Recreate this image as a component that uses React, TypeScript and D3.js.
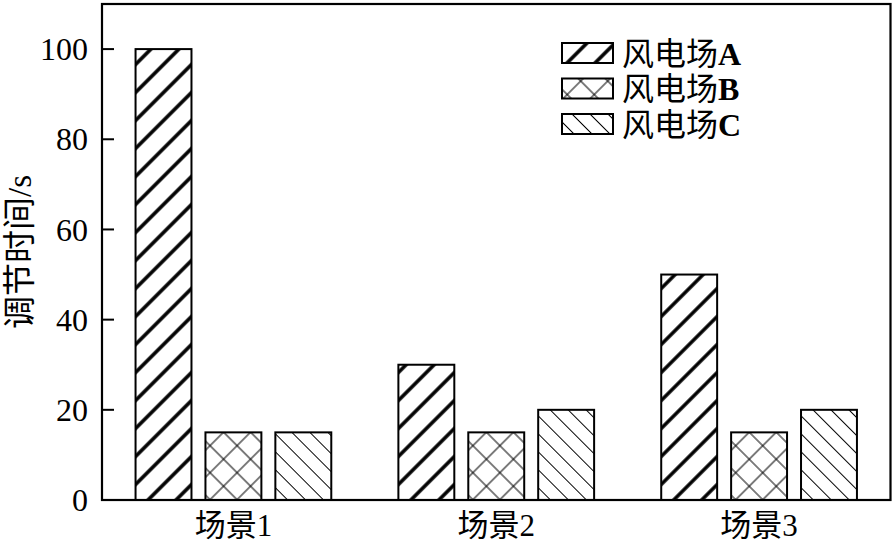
import * as d3 from "d3";
import React from "react";

const scenes = ["场景1", "场景2", "场景3"];
const farms = ["风电场A", "风电场B", "风电场C"];
const farmA = [100, 30, 50];
const farmB = [15, 15, 15];
const farmC = [15, 20, 20];
const yTicks = [0, 20, 40, 60, 80, 100];

const W = 894;
const H = 547;
const left = 102;
const right = 890.5;
const top = 4;
const bottom = 500;
const font = "'Liberation Serif', 'Times New Roman', 'Noto Sans CJK SC', serif";

const patternIds = ["hatchA", "hatchB", "hatchC"];

export default function App() {
  const series = [farmA, farmB, farmC];

  const x0 = d3.scaleBand().domain(scenes).range([left, right]).paddingInner(0).paddingOuter(0);
  const x1 = d3
    .scaleBand()
    .domain(farms)
    .range([0, x0.bandwidth()])
    .paddingInner(0.2)
    .paddingOuter(0.48);
  const y = d3.scaleLinear().domain([0, 110]).range([bottom, top]);

  return (
    <svg width={W} height={H} style={{ position: "absolute", left: 0, top: 0, background: "#fff" }} fontFamily={font}>
      <defs>
        <pattern id="hatchA" patternUnits="userSpaceOnUse" width={19.8} height={19.8} patternTransform="rotate(45)">
          <line x1={9.9} y1={0} x2={9.9} y2={19.8} stroke="#000" strokeWidth={3.5} />
        </pattern>
        <pattern id="hatchB" patternUnits="userSpaceOnUse" width={19.1} height={19.1} patternTransform="rotate(45)">
          <line x1={9.55} y1={0} x2={9.55} y2={19.1} stroke="#000" strokeWidth={1} />
          <line x1={0} y1={9.55} x2={19.1} y2={9.55} stroke="#000" strokeWidth={1} />
        </pattern>
        <pattern id="hatchC" patternUnits="userSpaceOnUse" width={12.7} height={12.7} patternTransform="rotate(-45)">
          <line x1={6.35} y1={0} x2={6.35} y2={12.7} stroke="#000" strokeWidth={1} />
        </pattern>
      </defs>

      {/* bars */}
      {scenes.map((s, i) => (
        <g key={s} transform={`translate(${x0(s)},0)`}>
          {farms.map((f, j) => (
            <rect
              key={f}
              x={x1(f)}
              y={y(series[j][i])}
              width={x1.bandwidth()}
              height={bottom - y(series[j][i])}
              fill={`url(#${patternIds[j]})`}
              stroke="#000"
              strokeWidth={2}
            />
          ))}
        </g>
      ))}

      {/* frame */}
      <rect x={left} y={top} width={right - left} height={bottom - top} fill="none" stroke="#000" strokeWidth={2.2} />

      {/* y ticks */}
      {yTicks.map((t) => (
        <g key={t}>
          {t > 0 && <line x1={left} x2={left + 12} y1={y(t)} y2={y(t)} stroke="#000" strokeWidth={2} />}
          <text x={88} y={y(t)} dy="0.35em" textAnchor="end" fontSize={32}>
            {t}
          </text>
        </g>
      ))}

      {/* x labels */}
      {scenes.map((s) => (
        <text key={s} x={(x0(s) ?? 0) + x0.bandwidth() / 2} y={536} textAnchor="middle" fontSize={31}>
          {s}
        </text>
      ))}

      {/* y title */}
      <text
        transform={`translate(31,${(top + bottom) / 2}) rotate(-90)`}
        textAnchor="middle"
        fontSize={33}
      >
        调节时间/s
      </text>

      {/* legend */}
      {farms.map((f, j) => {
        const cy = 53 + j * 35.5;
        return (
          <g key={f}>
            <rect x={562} y={cy - 10} width={51} height={20} fill={`url(#${patternIds[j]})`} stroke="#000" strokeWidth={2} />
            <text x={622} y={cy} dy="0.36em" fontSize={32}>
              {f.slice(0, 3)}
              <tspan fontWeight="bold">{f.slice(3)}</tspan>
            </text>
          </g>
        );
      })}
    </svg>
  );
}
